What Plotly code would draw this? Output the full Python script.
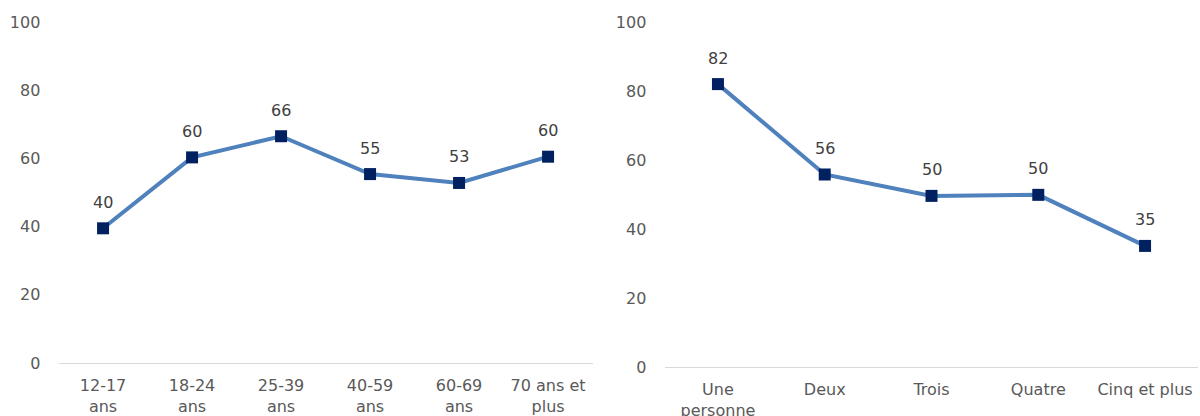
import plotly.graph_objects as go

age_categories = ["12-17<br>ans", "18-24<br>ans", "25-39<br>ans", "40-59<br>ans", "60-69<br>ans", "70 ans et<br>plus"]
age_values = [39.5, 60.3, 66.5, 55.4, 52.8, 60.5]
age_labels = ["40", "60", "66", "55", "53", "60"]

hh_categories = ["Une<br>personne", "Deux", "Trois", "Quatre", "Cinq et plus"]
hh_values = [82.0, 55.8, 49.6, 49.9, 35.1]
hh_labels = ["82", "56", "50", "50", "35"]

y_ticks = [0, 20, 40, 60, 80, 100]

LINE = "#4F81BD"
MARK = "#002060"
TXT = "#595959"
LAB = "#404040"
FONT = "DejaVu Sans"

fig = go.Figure()
fig.add_trace(go.Scatter(
    x=age_categories, y=age_values, mode="lines+markers",
    line=dict(color=LINE, width=4), marker=dict(symbol="square", size=12, color=MARK),
    xaxis="x", yaxis="y", cliponaxis=False, showlegend=False, hoverinfo="skip"))
fig.add_trace(go.Scatter(
    x=hh_categories, y=hh_values, mode="lines+markers",
    line=dict(color=LINE, width=4), marker=dict(symbol="square", size=12, color=MARK),
    xaxis="x2", yaxis="y2", cliponaxis=False, showlegend=False, hoverinfo="skip"))

annotations = []
for cx, cy, lab in zip(age_categories, age_values, age_labels):
    annotations.append(dict(x=cx, y=cy, xref="x", yref="y", text=lab, showarrow=False,
                            yshift=26, font=dict(size=16, color=LAB, family=FONT)))
for cx, cy, lab in zip(hh_categories, hh_values, hh_labels):
    annotations.append(dict(x=cx, y=cy, xref="x2", yref="y2", text=lab, showarrow=False,
                            yshift=26, font=dict(size=16, color=LAB, family=FONT)))

common_x = dict(showgrid=False, showline=True, linecolor="#D9D9D9", linewidth=1,
                ticks="outside", ticklen=8, tickcolor="rgba(0,0,0,0)",
                tickfont=dict(size=16, color=TXT, family=FONT), zeroline=False,
                automargin=False, fixedrange=True)
common_y = dict(range=[0, 100], tickvals=y_ticks, showgrid=False, zeroline=False,
                showline=False, ticks="outside", ticklen=14, tickcolor="rgba(0,0,0,0)",
                tickfont=dict(size=16, color=TXT, family=FONT), automargin=False,
                fixedrange=True)

fig.update_layout(
    width=1200, height=416, margin=dict(l=0, r=0, t=0, b=0),
    paper_bgcolor="white", plot_bgcolor="white",
    annotations=annotations,
    xaxis=dict(domain=[0.0488, 0.4938], anchor="y",
               range=[-0.5, len(age_categories) - 0.5], **common_x),
    yaxis=dict(domain=[0.1274, 0.9471], anchor="x", **common_y),
    xaxis2=dict(domain=[0.5538, 0.9987], anchor="y2",
                range=[-0.5, len(hh_categories) - 0.5], **common_x),
    yaxis2=dict(domain=[0.1178, 0.9471], anchor="x2", **common_y),
)

fig.write_html("out.html", config={"displayModeBar": False},
               post_script="document.body.style.margin='0';document.body.style.overflow='hidden';")
